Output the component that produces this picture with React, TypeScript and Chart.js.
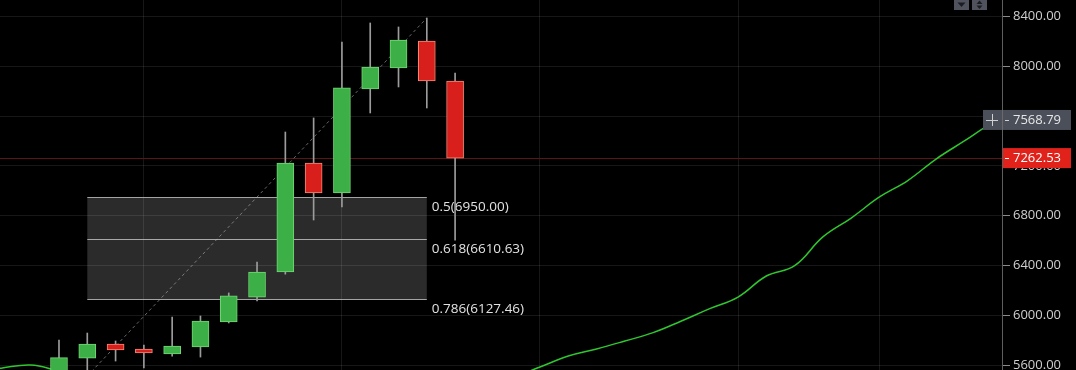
import React, { useEffect, useRef } from "react";
import { Chart, registerables } from "chart.js";

Chart.register(...registerables);

// Candles (index on x axis)
const CANDLE_X = [0, 1, 2, 3, 4, 5, 6, 7, 8, 9, 10, 11, 12, 13, 14];
const OPEN = [5540, 5656, 5769, 5729, 5689, 5745, 5946, 6146, 6347, 7223, 6982, 7818, 7986, 8203, 7882];
const HIGH = [5801, 5857, 5793, 5761, 5986, 5994, 6179, 6428, 7472, 7585, 8195, 8348, 8316, 8388, 7946];
const LOW = [5480, 5512, 5632, 5576, 5672, 5664, 5938, 6114, 6330, 6765, 6870, 7625, 7834, 7665, 6604];
const CLOSE = [5659, 5769, 5721, 5697, 5753, 5954, 6155, 6347, 7223, 6982, 7826, 7994, 8211, 7882, 7262.53];

// Moving average line
const MA_X = [-3, -2, -1, 0, 1, 2, 3, 4, 5, 6, 7, 8, 9, 10, 11, 12, 13, 14, 15, 16, 17, 18, 19, 20, 21, 22, 23, 24, 25, 26, 27, 28, 29, 30, 31, 32, 33, 34];
const MA_Y = [5540, 5576, 5600, 5552, 5500, 5455, 5420, 5395, 5378, 5368, 5362, 5360, 5362, 5368, 5378, 5392, 5410, 5432, 5458, 5500, 5584, 5672, 5729, 5793, 5860, 5954, 6053, 6146, 6315, 6398, 6629, 6781, 6950, 7082, 7255, 7400, 7545, 7640];
const MA_LAST = 7568.79;
const LAST_PRICE = 7262.53;

// Fibonacci retracement
const FIB_START = 1;
const FIB_END = 13;
const FIB_HIGH = 8388;
const FIB_LOW = 5512;
const FIB_RATIOS = [0.5, 0.618, 0.786];

// Axes
const Y_TICKS = [5600, 6000, 6400, 6800, 7200, 7600, 8000, 8400];
const X_GRID = [3, 10, 17, 24, 29];
const X_MIN = -2.085;
const X_MAX = 33.33;
const Y_MIN = 5560;
const Y_MAX = 8532.6;

const FONT = "'Open Sans', 'Noto Sans', sans-serif";

const overlayPlugin = {
  id: "overlay",
  beforeDatasetsDraw(chart: any) {
    const { ctx, chartArea, scales } = chart;
    const x = scales.x;
    const y = scales.y;
    ctx.save();
    // last price line
    const py = Math.round(y.getPixelForValue(LAST_PRICE)) + 0.5;
    ctx.strokeStyle = "#5a1515";
    ctx.lineWidth = 1;
    ctx.beginPath();
    ctx.moveTo(chartArea.left, py);
    ctx.lineTo(chartArea.right, py);
    ctx.stroke();

    // fib box
    const x0 = x.getPixelForValue(FIB_START);
    const x1 = x.getPixelForValue(FIB_END);
    const levels = FIB_RATIOS.map((r) => FIB_HIGH - r * (FIB_HIGH - FIB_LOW));
    const ys = levels.map((v) => Math.round(y.getPixelForValue(v)) + 0.5);
    ctx.fillStyle = "rgba(255,255,255,0.17)";
    ctx.fillRect(x0, ys[0], x1 - x0, ys[ys.length - 1] - ys[0]);
    ctx.strokeStyle = "rgba(200,200,200,0.8)";
    ys.forEach((yy) => {
      ctx.beginPath();
      ctx.moveTo(x0, yy);
      ctx.lineTo(x1, yy);
      ctx.stroke();
    });
    ctx.fillStyle = "#e2e2e2";
    ctx.font = `13.5px ${FONT}`;
    ctx.textBaseline = "middle";
    ctx.textAlign = "left";
    FIB_RATIOS.forEach((r, i) => {
      ctx.fillText(`${r}(${levels[i].toFixed(2)})`, x1 + 5, ys[i] + 10);
    });
    ctx.restore();
  },
  afterDraw(chart: any) {
    const { ctx, chartArea, scales } = chart;
    const y = scales.y;
    const right = chartArea.right;
    ctx.save();
    ctx.font = `13px ${FONT}`;
    ctx.textBaseline = "middle";
    ctx.textAlign = "left";

    // MA label (gray)
    const my = y.getPixelForValue(MA_LAST);
    ctx.fillStyle = "#4b4f5a";
    ctx.fillRect(right - 19, my - 10, 88, 20);
    ctx.strokeStyle = "#d0d0d0";
    ctx.lineWidth = 1;
    ctx.beginPath();
    ctx.moveTo(right - 16, Math.round(my) + 0.5);
    ctx.lineTo(right - 4, Math.round(my) + 0.5);
    ctx.moveTo(right - 9.5, my - 6);
    ctx.lineTo(right - 9.5, my + 6);
    ctx.moveTo(right + 3, Math.round(my) + 0.5);
    ctx.lineTo(right + 7, Math.round(my) + 0.5);
    ctx.stroke();
    ctx.strokeStyle = "#6a6a6a";
    ctx.beginPath();
    ctx.moveTo(right + 0.5, my - 10);
    ctx.lineTo(right + 0.5, my + 10);
    ctx.stroke();
    ctx.fillStyle = "#e6e6e6";
    ctx.fillText(MA_LAST.toFixed(2), right + 11, my + 0.5);

    // last price label (red)
    const py = y.getPixelForValue(LAST_PRICE);
    ctx.fillStyle = "#e0221b";
    ctx.fillRect(right + 1, py - 10, 68, 20);
    ctx.strokeStyle = "#ffffff";
    ctx.beginPath();
    ctx.moveTo(right + 3, Math.round(py) + 0.5);
    ctx.lineTo(right + 7, Math.round(py) + 0.5);
    ctx.stroke();
    ctx.fillStyle = "#ffffff";
    ctx.fillText(LAST_PRICE.toFixed(2), right + 11, py + 0.5);

    // top buttons
    ctx.fillStyle = "#50535e";
    ctx.fillRect(954, -2, 15, 12);
    ctx.fillRect(972, -2, 15, 12);
    ctx.fillStyle = "#1c1d22";
    ctx.beginPath();
    ctx.moveTo(957.5, 2.5);
    ctx.lineTo(965.5, 2.5);
    ctx.lineTo(961.5, 7);
    ctx.closePath();
    ctx.fill();
    ctx.beginPath();
    ctx.moveTo(976.5, 4);
    ctx.lineTo(982.5, 4);
    ctx.lineTo(979.5, 0.5);
    ctx.closePath();
    ctx.fill();
    ctx.beginPath();
    ctx.moveTo(976.5, 5.5);
    ctx.lineTo(982.5, 5.5);
    ctx.lineTo(979.5, 9);
    ctx.closePath();
    ctx.fill();
    ctx.restore();
  },
};

export default function App() {
  const canvasRef = useRef<HTMLCanvasElement | null>(null);

  useEffect(() => {
    const canvas = canvasRef.current;
    if (!canvas) return;
    const up = CANDLE_X.map((_, i) => CLOSE[i] >= OPEN[i]);
    const chart = new Chart(canvas, {
      type: "bar",
      data: {
        datasets: [
          {
            type: "bar",
            label: "body",
            data: CANDLE_X.map((xv, i) => ({ x: xv, y: [OPEN[i], CLOSE[i]] })) as any,
            backgroundColor: up.map((u) => (u ? "#3cb046" : "#d81f1c")),
            borderColor: up.map((u) => (u ? "#72d676" : "#f28a74")),
            borderWidth: 1,
            borderSkipped: false,
            barThickness: 17,
            grouped: false,
            order: 0,
          } as any,
          {
            type: "bar",
            label: "wick",
            data: CANDLE_X.map((xv, i) => ({ x: xv, y: [LOW[i], HIGH[i]] })) as any,
            backgroundColor: "#9c9c9c",
            borderWidth: 0,
            barThickness: 1,
            grouped: false,
            order: 1,
          } as any,
          {
            type: "line",
            label: "ma",
            data: MA_X.map((xv, i) => ({ x: xv, y: MA_Y[i] })),
            borderColor: "#2fc62f",
            borderWidth: 1.5,
            pointRadius: 0,
            tension: 0.4,
            order: 2,
          } as any,
          {
            type: "line",
            label: "trend",
            data: [
              { x: FIB_START, y: FIB_LOW },
              { x: FIB_END, y: FIB_HIGH },
            ],
            borderColor: "rgba(190,190,190,0.55)",
            borderWidth: 1,
            borderDash: [3, 3],
            pointRadius: 0,
            order: 3,
          } as any,
        ],
      },
      options: {
        animation: false,
        responsive: true,
        maintainAspectRatio: false,
        layout: { padding: 0 },
        plugins: { legend: { display: false }, tooltip: { enabled: false } },
        scales: {
          x: {
            type: "linear",
            min: X_MIN,
            max: X_MAX,
            offset: false,
            afterBuildTicks: (s: any) => {
              s.ticks = X_GRID.map((v) => ({ value: v }));
            },
            afterFit: (s: any) => {
              s.height = 0;
              s.paddingLeft = 0;
              s.paddingRight = 0;
            },
            ticks: { display: false },
            grid: { color: "rgba(255,255,255,0.09)", drawTicks: false, offset: false },
            border: { display: false },
          },
          y: {
            type: "linear",
            position: "right",
            min: Y_MIN,
            max: Y_MAX,
            afterBuildTicks: (s: any) => {
              s.ticks = Y_TICKS.map((v) => ({ value: v }));
            },
            afterFit: (s: any) => {
              s.width = 74;
              s.paddingTop = 0;
              s.paddingBottom = 0;
            },
            ticks: {
              color: "#cfcfcf",
              font: { family: FONT, size: 13 },
              padding: 3,
              callback: (v: any) => Number(v).toFixed(2),
            },
            grid: {
              color: "rgba(255,255,255,0.09)",
              tickColor: "#8a8a8a",
              tickLength: 8,
              offset: false,
            },
            border: { display: true, color: "#5e5e5e" },
          },
        },
      } as any,
      plugins: [overlayPlugin],
    });
    return () => chart.destroy();
  }, []);

  return (
    <div style={{ position: "fixed", left: 0, top: 0, width: 1076, height: 370, background: "#000" }}>
      <canvas ref={canvasRef} style={{ display: "block" }} />
    </div>
  );
}
